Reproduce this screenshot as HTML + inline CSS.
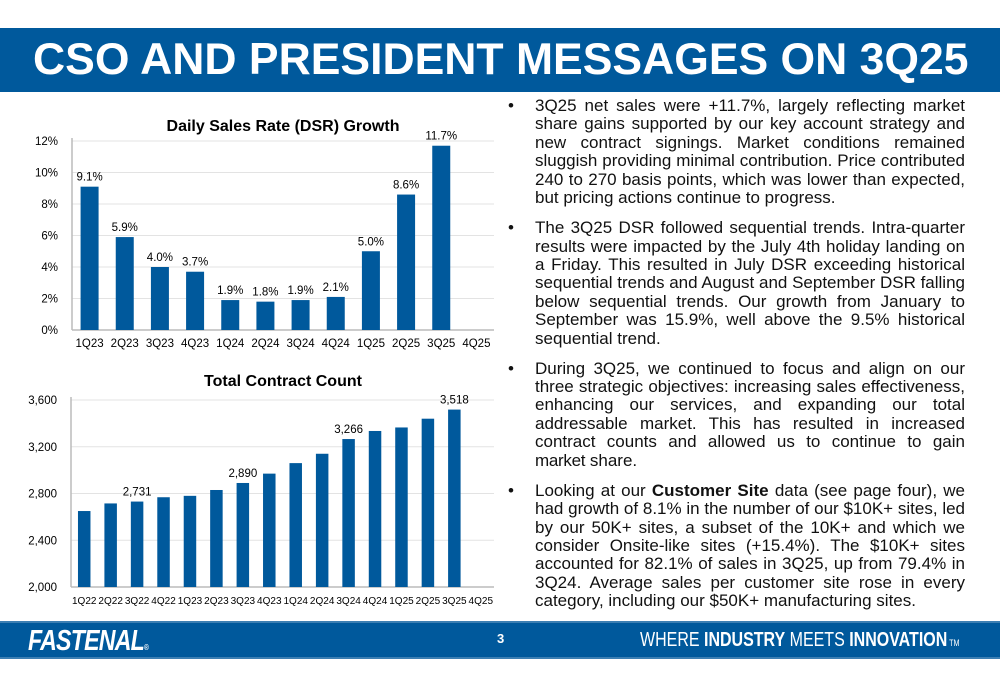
<!DOCTYPE html>
<html><head><meta charset="utf-8"><style>
body{margin:0;width:1000px;height:685px;background:#fff;position:relative;overflow:hidden;font-family:"Liberation Sans",Arial,sans-serif}
.hdr{position:absolute;left:0;top:28px;width:1000px;height:64px;background:#00599c}
.hdr h1{margin:0;color:#fff;font-size:44.5px;font-weight:bold;position:absolute;left:33px;top:7px;letter-spacing:0px;white-space:nowrap}
.ftr{position:absolute;left:0;top:621px;width:1000px;height:38px;background:#00599c;border-top:2px solid #3c7fb3;border-bottom:2px solid #3c7fb3;box-sizing:border-box}
.txt{position:absolute;left:508px;top:97px;width:457px;font-size:17px;line-height:18.4px;color:#111}
.txt ul{margin:0;padding:0;list-style:none}
.txt li{position:relative;padding-left:27px;text-align:justify;margin-bottom:11.7px}
.txt li:before{content:"•";position:absolute;left:0;top:0}
svg text{font-family:"Liberation Sans",Arial,sans-serif}
</style></head><body>
<div class="hdr"><h1>CSO AND PRESIDENT MESSAGES ON 3Q25</h1></div>

<svg id="c1" style="position:absolute;left:0;top:100px" width="500" height="260"></svg>
<svg id="c2" style="position:absolute;left:0;top:360px" width="500" height="260"></svg>

<div class="txt"><ul>
<li>3Q25 net sales were +11.7%, largely reflecting market share gains supported by our key account strategy and new contract signings. Market conditions remained sluggish providing minimal contribution. Price contributed 240 to 270 basis points, which was lower than expected, but pricing actions continue to progress.</li>
<li>The 3Q25 DSR followed sequential trends. Intra-quarter results were impacted by the July 4th holiday landing on a Friday. This resulted in July DSR exceeding historical sequential trends and August and September DSR falling below sequential trends. Our growth from January to September was 15.9%, well above the 9.5% historical sequential trend.</li>
<li>During 3Q25, we continued to focus and align on our three strategic objectives: increasing sales effectiveness, enhancing our services, and expanding our total addressable market. This has resulted in increased contract counts and allowed us to continue to gain <span style="letter-spacing:-0.3px">market</span> share.</li>
<li>Looking at our <b>Customer Site</b> data (see page four), we had growth of 8.1% in the number of our $10K+ sites, led by our 50K+ sites, a subset of the 10K+ and which we consider Onsite-like sites (+15.4%). The $10K+ sites accounted for 82.1% of sales in 3Q25, up from 79.4% in 3Q24. Average sales per customer site rose in every category, including our $50K+ manufacturing sites.</li>
</ul></div>

<div class="ftr">
<div style="position:absolute;left:28px;top:2px;color:#fff;font-size:29px;font-weight:bold;font-style:italic;letter-spacing:-1px;transform:scaleX(0.8);transform-origin:left">FASTENAL<span style="font-size:8px">®</span></div>
<div style="position:absolute;left:497px;top:8px;color:#fff;font-size:13px;font-weight:bold">3</div>
<div style="position:absolute;left:640px;top:6px;color:#fff;font-size:20px;transform:scaleX(0.8);transform-origin:left;white-space:nowrap">WHERE <b>INDUSTRY</b> MEETS <b>INNOVATION</b><span style="font-size:9px"> TM</span></div>
</div>

<script>
const dsrCats=["1Q23","2Q23","3Q23","4Q23","1Q24","2Q24","3Q24","4Q24","1Q25","2Q25","3Q25","4Q25"];
const dsrVals=[9.1,5.9,4.0,3.7,1.9,1.8,1.9,2.1,5.0,8.6,11.7,null];
const dsrTicks=[0,2,4,6,8,10,12];
const ccCats=["1Q22","2Q22","3Q22","4Q22","1Q23","2Q23","3Q23","4Q23","1Q24","2Q24","3Q24","4Q24","1Q25","2Q25","3Q25","4Q25"];
const ccVals=[2650,2715,2731,2768,2780,2830,2890,2970,3060,3140,3266,3335,3365,3440,3518,null];
const ccLabels=[null,null,"2,731",null,null,null,"2,890",null,null,null,"3,266",null,null,null,"3,518",null];
const ccTicks=[2000,2400,2800,3200,3600];
const NS="http://www.w3.org/2000/svg";
function mk(svg,tag,a,txt){const e=document.createElementNS(NS,tag);for(const k in a)e.setAttribute(k,a[k]);if(txt!=null)e.textContent=txt;svg.appendChild(e);return e;}
function draw(o){
 const svg=document.getElementById(o.id);
 const x0=o.x0,x1=494,yTop=o.yTop,yBot=o.yBot;
 const y=v=>yBot-(v-o.min)/(o.max-o.min)*(yBot-yTop);
 const bw=(x1-x0)/o.cats.length;
 const t=mk(svg,'text',{x:o.tx,y:o.ty,'text-anchor':'middle','font-size':16,'font-weight':'bold',fill:'#000'},o.title);
 
 o.ticks.forEach(v=>{
  const g=mk(svg,'line',{x1:x0,x2:x1,y1:y(v),y2:y(v),stroke:'#e3e3e3','stroke-width':1});
  
  const l=mk(svg,'text',{x:x0-14,y:y(v)+4,'text-anchor':'end','font-size':11.5,fill:'#000'},o.fmt(v));
  
 });
 const ax=mk(svg,'line',{x1:x0,x2:x0,y1:yTop-3,y2:yBot,stroke:'#bbb','stroke-width':1.5});
 
 const bx=mk(svg,'line',{x1:x0,x2:x1,y1:yBot,y2:yBot,stroke:'#bbb','stroke-width':1.5});
 
 o.cats.forEach((c,i)=>{
  const cx=x0+bw*(i+0.5);
  const xl=mk(svg,'text',{x:cx,y:yBot+o.xlOff,'text-anchor':'middle','font-size':o.xfs,fill:'#000'},c);
  
  const v=o.vals[i];if(v==null)return;
  const r=mk(svg,'rect',{x:cx-o.bwid/2,y:y(v),width:o.bwid,height:yBot-y(v),fill:'#00599c'});
  
  const lab=o.labels[i];
  if(lab!=null){const d=mk(svg,'text',{x:cx,y:y(v)-6,'text-anchor':'middle','font-size':11.5,fill:'#000'},lab);
   }
 });
}
draw({id:'c1',title:'Daily Sales Rate (DSR) Growth',tx:283,ty:31,x0:72,yTop:41,yBot:230,min:0,max:12,ticks:dsrTicks,fmt:v=>v+'%',cats:dsrCats,vals:dsrVals,labels:dsrVals.map(v=>v==null?null:v.toFixed(1)+'%'),bwid:18,xlOff:17,xfs:11.5});
draw({id:'c2',title:'Total Contract Count',tx:283,ty:26,x0:71,yTop:40,yBot:227,min:2000,max:3600,ticks:ccTicks,fmt:v=>v.toLocaleString('en-US'),cats:ccCats,vals:ccVals,labels:ccLabels,bwid:12.5,xlOff:17,xfs:10});
</script>
</body></html>
